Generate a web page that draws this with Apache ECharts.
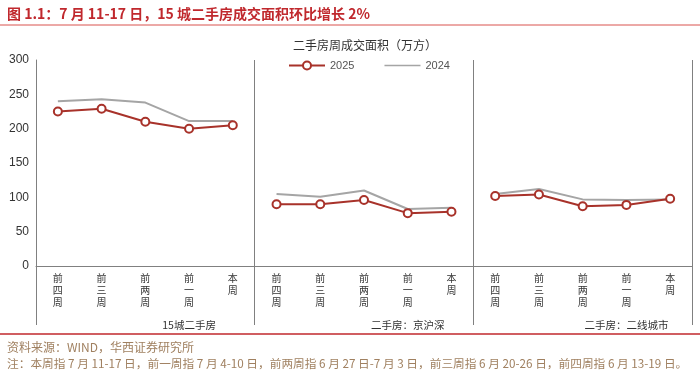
<!DOCTYPE html>
<html><head><meta charset="utf-8">
<script src="https://cdn.jsdelivr.net/npm/echarts@6/dist/echarts.min.js"></script>
<style>html,body{margin:0;padding:0;background:#fff}#c{width:700px;height:370px}</style>
</head><body><div id="c"></div>
<script>
const weekLabels = ['前四周','前三周','前两周','前一周','本周'];
const groupNames = ['15城二手房','二手房：京沪深','二手房：二线城市'];
const yTicks = [0,50,100,150,200,250,300];
const s2025 = [
  [225, 229, 210, 200, 205],
  [90, 90, 96, 77, 79],
  [102, 104, 87, 89, 98]
];
const s2024 = [
  [240, 243, 238, 211, 211],
  [105, 101, 110, 83, 85],
  [105, 112, 97, 96, 97]
];
const chartTitle = '二手房周成交面积（万方）';
const figTitle = '图 1.1：7 月 11-17 日，15 城二手房成交面积环比增长 2%';
const source = '资料来源：WIND，华西证券研究所';
const note = '注：本周指 7 月 11-17 日，前一周指 7 月 4-10 日，前两周指 6 月 27 日-7 月 3 日，前三周指 6 月 20-26 日，前四周指 6 月 13-19 日。';

const n = weekLabels.length;
const categories = [];
const groupAxis = [];
groupNames.forEach((g) => {
  weekLabels.forEach((w, i) => {
    categories.push(w);
    groupAxis.push(i === 3 ? g : '');
  });
});
function pad(arr, gi) {
  const out = new Array(categories.length).fill('-');
  arr.forEach((v, i) => { out[gi * n + i] = v; });
  return out;
}
const RED = '#a8322a', GRAY = '#a5a5a5';
const series = [];
s2024.forEach((arr, gi) => series.push({
  name: '2024', type: 'line', data: pad(arr, gi), symbol: 'none',
  lineStyle: { color: GRAY, width: 2 }, itemStyle: { color: GRAY }, z: 2, animation: false
}));
s2025.forEach((arr, gi) => series.push({
  name: '2025', type: 'line', data: pad(arr, gi), symbol: 'circle', symbolSize: 8,
  lineStyle: { color: RED, width: 2 }, itemStyle: { color: '#fff', borderColor: RED, borderWidth: 2 }, z: 3, animation: false
}));
const total = categories.length;
const sep = (i) => i % n === 0 && i < total;

const chart = echarts.init(document.getElementById('c'));
chart.setOption({
  backgroundColor: '#fff',
  animation: false,
  textStyle: { fontFamily: 'Noto Sans CJK SC, Liberation Sans, sans-serif' },
  title: [
    { text: figTitle, left: 2, top: 2, textStyle: { color: '#c0282d', fontSize: 14, fontWeight: 'bold', fontFamily: 'Noto Sans CJK SC, Liberation Sans, sans-serif' } },
    { text: chartTitle, left: 360, top: 34, textAlign: 'center', textStyle: { color: '#333', fontSize: 12, fontWeight: 'normal' } },
    { text: source, left: 2, top: 336, textStyle: { color: '#a08060', fontSize: 12, fontWeight: 'normal' } },
    { text: note, left: 2, top: 353, textStyle: { color: '#a08060', fontSize: 11.7, fontWeight: 'normal' } }
  ],
  graphic: [
    { type: 'line', shape: { x1: 0, y1: 25, x2: 700, y2: 25 }, style: { stroke: '#d9534f', lineWidth: 1 } },
    { type: 'line', shape: { x1: 0, y1: 334, x2: 700, y2: 334 }, style: { stroke: '#c0282d', lineWidth: 1.5 } }
  ],
  legend: {
    data: ['2025', { name: '2024', icon: 'path://M0,4.2L36,4.2L36,5.8L0,5.8Z' }],
    top: 55, left: 283, itemGap: 30, itemWidth: 36, itemHeight: 10,
    textStyle: { color: '#555', fontSize: 11, fontFamily: 'Liberation Sans, sans-serif' }
  },
  grid: { left: 36, right: 8, top: 60, bottom: 104 },
  xAxis: [
    {
      type: 'category', data: categories, boundaryGap: true,
      axisLine: { lineStyle: { color: '#808080', width: 1 } },
      axisTick: { show: true, length: 59, interval: sep, lineStyle: { color: '#808080' } },
      splitLine: { show: true, interval: (i) => i % n === 0, lineStyle: { color: '#808080', width: 1 } },
      axisLabel: { interval: 0, fontSize: 10, lineHeight: 12, color: '#333', margin: 6,
        formatter: (v) => v.split('').join('\n') }
    },
    {
      type: 'category', data: groupAxis, position: 'bottom', offset: 46,
      axisLine: { show: false }, axisTick: { show: false }, splitLine: { show: false },
      axisLabel: { interval: 0, fontSize: 10.5, color: '#333' }
    }
  ],
  yAxis: {
    type: 'value', min: yTicks[0], max: yTicks[yTicks.length - 1], interval: 50,
    axisLine: { show: true, lineStyle: { color: '#808080' } },
    axisTick: { show: false }, splitLine: { show: false },
    axisLabel: { color: '#333', fontSize: 12, margin: 7, fontFamily: 'Liberation Sans, sans-serif' }
  },
  series: series
});
</script></body></html>
